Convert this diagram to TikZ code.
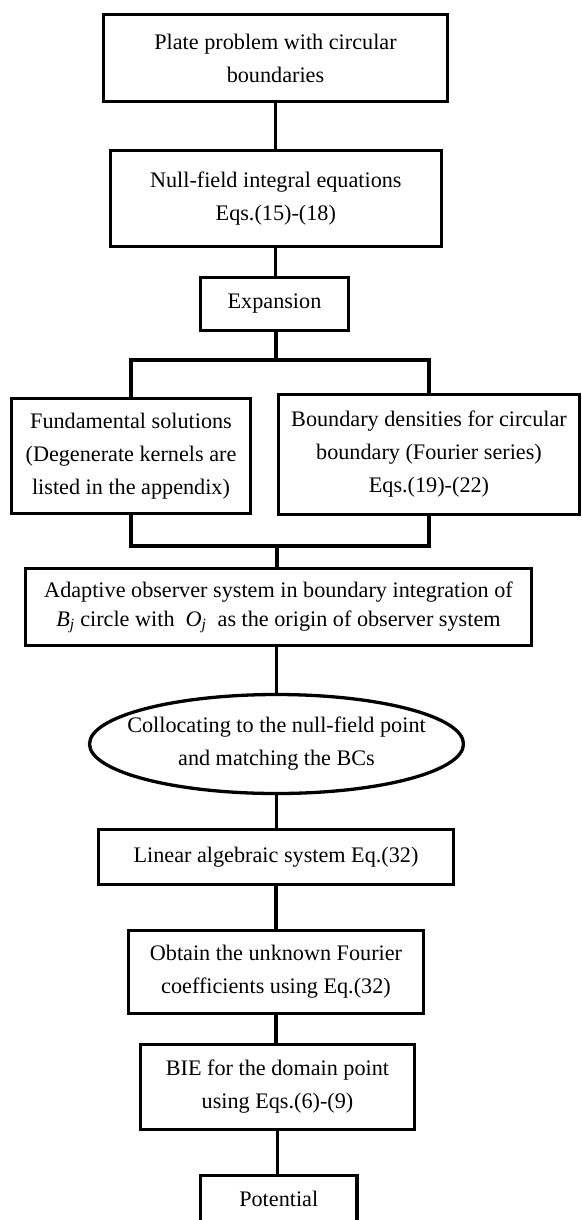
\documentclass[tikz,border=0pt]{standalone}
\usepackage{fontspec}
\setmainfont{Liberation Serif}
\usetikzlibrary{shapes.geometric}
\begin{document}
\begin{tikzpicture}[x=1pt,y=-1pt,
  every node/.style={font=\fontsize{22.2}{33}\selectfont, align=center, inner sep=1pt},
  box/.style={draw, line width=3.3pt, rectangle},
  ovalbox/.style={draw, line width=3.3pt, ellipse, inner xsep=-30pt, inner ysep=-2pt},
  conn/.style={draw, line width=3.3pt, line join=miter}]
\useasboundingbox (0,0) rectangle (581,1220);
\clip (0,0) rectangle (581,1220);

\node[box, minimum width=344pt, minimum height=87pt] (b1) at (275.5,58)
  {Plate problem with circular\\boundaries};
\node[box, minimum width=331pt, minimum height=96pt] (b2) at (275.8,198.5)
  {Null-field integral equations\\Eqs.(15)-(18)};
\node[box, minimum width=148pt, minimum height=53pt] (exp) at (274.5,304)
  {Expansion};
\node[box, minimum width=239pt, minimum height=115pt] (left) at (131,456)
  {Fundamental solutions\\(Degenerate kernels are\\listed in the appendix)};
\node[box, minimum width=301pt, minimum height=120pt] (right) at (429,454.5)
  {Boundary densities for circular\\boundary (Fourier series)\\Eqs.(19)-(22)};
\node[box, minimum width=506pt, minimum height=77pt, font=\fontsize{22.2}{29}\selectfont] (adapt) at (278.5,607)
  {Adaptive observer system in boundary integration of\\{\itshape B}\textsubscript{\itshape j} circle with\enspace{\itshape O}\textsubscript{\itshape j}\enspace as the origin of observer system};
\node[ovalbox, minimum width=374pt, minimum height=99pt] (ell) at (276.5,744)
  {Collocating to the null-field point\\and matching the BCs};
\node[box, minimum width=355pt, minimum height=55pt] (lin) at (276,857)
  {Linear algebraic system Eq.(32)};
\node[box, minimum width=295pt, minimum height=83pt] (obt) at (276,972)
  {Obtain the unknown Fourier\\coefficients using Eq.(32)};
\node[box, minimum width=274pt, minimum height=85pt] (bie) at (277.5,1087)
  {BIE for the domain point\\using Eqs.(6)-(9)};
\node[box, minimum width=156.5pt, minimum height=47pt] (pot) at (278.75,1199)
  {Potential};

\coordinate (split) at (276,360);
\coordinate (merge) at (277,546);

\draw[conn] (b1.south) -- (b1.south |- b2.north);
\draw[conn] (b2.south) -- (b2.south |- exp.north);
\draw[conn] (exp.south -| split) -- (split);
\draw[conn] (left.north) |- (split) -| (right.north);
\draw[conn] (left.south) |- (merge) -| (right.south);
\draw[conn] (merge) -- (merge |- adapt.north);
\draw[conn] (ell.north |- adapt.south) -- (ell.north);
\draw[conn] (ell.south) -- (ell.south |- lin.north);
\draw[conn] (lin.south) -- (lin.south |- obt.north);
\draw[conn] (obt.south) -- (obt.south |- bie.north);
\draw[conn] (bie.south) -- (bie.south |- pot.north);
\end{tikzpicture}
\end{document}
